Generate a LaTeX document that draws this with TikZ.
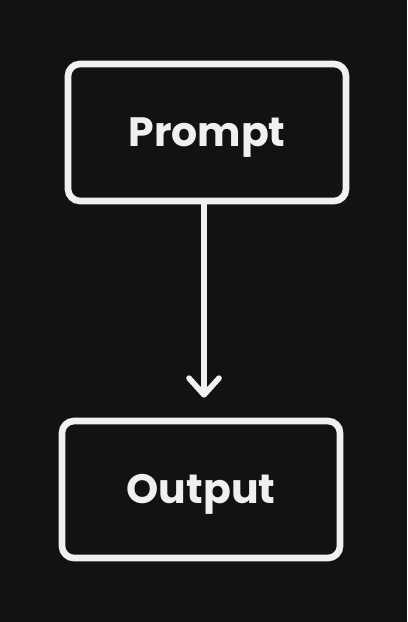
\documentclass[tikz,border=0pt]{standalone}
\usepackage{fontspec}
\setmainfont{Poppins}
\usepackage{tikz}
\usetikzlibrary{arrows.meta,positioning}
\definecolor{skbg}{RGB}{18,18,18}
\definecolor{skline}{RGB}{240,240,240}
\tikzstyle{sketchbox} = [rectangle, rounded corners=0.36cm, minimum width=8.34cm, minimum height=4.11cm, text centered, text height=0.85cm, text depth=0pt, draw=skline, line width=0.2cm, text=skline, font=\fontsize{35}{40}\selectfont\bfseries]
\tikzstyle{flowarrow} = [line width=0.17cm, color=skline, line cap=round, -{Straight Barb[length=0.5cm, width=0.9cm, line cap=round, line join=round]}]

\begin{document}
\begin{tikzpicture}[x=0.03cm, y=-0.03cm]
% Canvas
\fill[skbg] (0,0) rectangle (407,622);
\useasboundingbox (0,0) rectangle (407,622);

% Boxes
\node (prompt) [sketchbox] at (207,132.5) {Prompt};
\node (output) [sketchbox] at (201,489.5) {Output};

% Connection
\draw[flowarrow, shorten >=0.6cm] ([xshift=-0.09cm]prompt.south) -- ([xshift=-0.09cm]prompt.south |- output.north);
\end{tikzpicture}
\end{document}
